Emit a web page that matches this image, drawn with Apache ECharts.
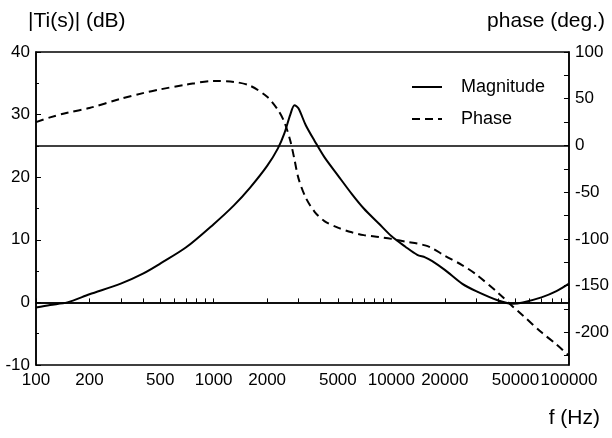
<!DOCTYPE html>
<html>
<head>
<meta charset="utf-8">
<script src="https://cdn.jsdelivr.net/npm/echarts@6/dist/echarts.min.js"></script>
<style>
  html, body { margin: 0; padding: 0; background: #fff; }
  #chart { width: 612px; height: 438px; }
</style>
</head>
<body>
<div id="chart"></div>
<script>
// Frequency response of Ti(s): magnitude (dB) and phase (degrees)
const freqHz = [100, 120, 150, 200, 300, 400, 500, 700, 1000, 1300, 1600, 2000, 2300, 2500, 2700, 2850,
  3000, 3300, 3700, 4200, 5000, 6000, 7000, 8500, 10000, 12000, 14000, 15500, 17000, 20000, 25000,
  30000, 40000, 48000, 55000, 70000, 85000, 100000];
const magnitudeDb = [-0.8, -0.4, 0, 1.3, 3, 4.6, 6.2, 8.8, 12.5, 15.5, 18.3, 21.8, 24.6, 27, 30, 31.5,
  31, 28.3, 25.8, 23.2, 20.3, 17.3, 15, 12.6, 10.6, 8.9, 7.6, 7.2, 6.6, 5.2, 3,
  1.8, 0.3, -0.2, 0, 0.8, 1.8, 3];
const phaseDeg = [25, 30, 35, 40, 50, 56, 60, 65, 69, 68, 64, 52, 38, 25, 5, -15,
  -35, -56, -71, -81, -88, -93, -96, -98, -100, -103, -105, -107, -110, -118, -128,
  -138, -158, -172, -182, -200, -213, -225];

const freqLabels = [100, 200, 500, 1000, 2000, 5000, 10000, 20000, 50000, 100000];
const freqTicks = [100, 200, 300, 400, 500, 600, 700, 800, 900,
  1000, 2000, 3000, 4000, 5000, 6000, 7000, 8000, 9000,
  10000, 20000, 30000, 40000, 50000, 60000, 70000, 80000, 90000, 100000];
const phaseLabels = [-200, -150, -100, -50, 0, 50, 100];
const phaseTicks = [-225, -200, -175, -150, -125, -100, -75, -50, -25, 0, 25, 50, 75, 100];

const font = 'Liberation Sans, Arial, Helvetica, sans-serif';
const chart = echarts.init(document.getElementById('chart'), null, { renderer: 'canvas' });

const pair = (xs, ys) => xs.map((x, i) => [x, ys[i]]);
const zeroLine = {
  silent: true,
  symbol: 'none',
  label: { show: false },
  lineStyle: { color: '#000', width: 1.5, type: 'solid' },
  data: [{ yAxis: 0 }]
};

chart.setOption({
  animation: false,
  backgroundColor: '#fff',
  grid: {
    left: 36, right: 41, top: 52, bottom: 73,
    show: true, borderColor: '#000', borderWidth: 1.5, backgroundColor: 'transparent'
  },
  legend: {
    orient: 'vertical',
    left: 406, top: 73,
    itemWidth: 30, itemHeight: 12, itemGap: 14,
    itemStyle: { opacity: 0 },
    textStyle: { fontFamily: font, fontSize: 18, color: '#000', padding: [0, 0, 0, 14] },
    data: ['Magnitude', 'Phase']
  },
  xAxis: {
    type: 'log', logBase: 10, min: 100, max: 100000,
    axisLine: { show: true, lineStyle: { color: '#000', width: 1.5 } },
    axisTick: { show: true, inside: true, length: 4, customValues: freqTicks, lineStyle: { color: '#000' } },
    minorTick: { show: false },
    splitLine: { show: false },
    axisLabel: {
      customValues: freqLabels, margin: 7, color: '#000',
      fontFamily: font, fontSize: 17, formatter: v => String(Math.round(v))
    }
  },
  yAxis: [
    {
      type: 'value', min: -10, max: 40, interval: 10,
      axisLine: { show: true, lineStyle: { color: '#000', width: 1.5 } },
      axisTick: { show: true, inside: true, length: 5, lineStyle: { color: '#000' } },
      minorTick: { show: true, splitNumber: 2, length: 3, lineStyle: { color: '#000' } },
      splitLine: { show: false },
      axisLabel: { margin: 6, color: '#000', fontFamily: font, fontSize: 17 }
    },
    {
      type: 'value', min: -235, max: 100, position: 'right',
      axisLine: { show: true, lineStyle: { color: '#000', width: 1.5 } },
      axisTick: { show: true, inside: true, length: 5, customValues: phaseTicks, lineStyle: { color: '#000' } },
      splitLine: { show: false },
      axisLabel: { customValues: phaseLabels, margin: 6, color: '#000', fontFamily: font, fontSize: 17 }
    }
  ],
  series: [
    {
      name: 'Magnitude', type: 'line', yAxisIndex: 0,
      data: pair(freqHz, magnitudeDb),
      smooth: 0.3, symbol: 'none',
      lineStyle: { color: '#000', width: 2, type: 'solid' },
      itemStyle: { color: '#000' },
      markLine: zeroLine
    },
    {
      name: 'Phase', type: 'line', yAxisIndex: 1,
      data: pair(freqHz, phaseDeg),
      smooth: 0.3, symbol: 'none',
      lineStyle: { color: '#000', width: 2, type: [8, 5] },
      itemStyle: { color: '#000' },
      markLine: zeroLine
    }
  ],
  graphic: [
    { type: 'text', left: 28, top: 11, style: { text: '|Ti(s)| (dB)', font: '21px ' + font, fill: '#000' } },
    { type: 'text', right: 7, top: 11, style: { text: 'phase (deg.)', font: '21px ' + font, fill: '#000' } },
    { type: 'text', right: 12, top: 408, style: { text: 'f (Hz)', font: '21px ' + font, fill: '#000' } }
  ]
});
</script>
</body>
</html>
